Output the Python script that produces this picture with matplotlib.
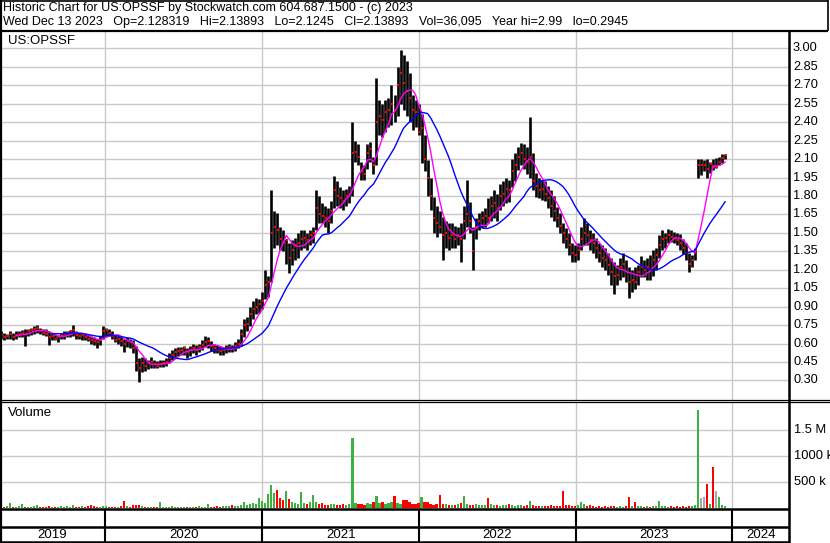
import matplotlib
matplotlib.use('Agg')
import matplotlib.pyplot as plt
import matplotlib.dates as mdates
from matplotlib.lines import Line2D
import numpy as np
import pandas as pd

plt.rcParams['font.family'] = ['Liberation Sans', 'DejaVu Sans']

# ---------------- data (weekly) ----------------
start_date = '2019-05-03'

high = [
    .70, .69, .68, .70, .69, .70, .70, .71, .72, .72,
    .73, .74, .75, .73, .72, .72, .70, .69, .68, .67,
    .69, .70, .70, .71, .75, .70, .69, .69, .68, .68,
    .66, .65, .64, .66, .74, .73, .72, .70, .67, .66,
    .66, .64, .65, .64, .63, .58, .48, .49, .48, .47,
    .49, .47, .46, .47, .47, .48, .52, .55, .56, .57,
    .57, .58, .56, .58, .60, .59, .60, .63, .66, .65,
    .62, .60, .59, .58, .57, .59, .60, .59, .61, .64,
    .72, .80, .82, .90, .95, .97, .96, 1.02, 1.20, 1.15,
    1.85, 1.68, 1.66, 1.55, 1.52, 1.45, 1.42, 1.44, 1.46, 1.50,
    1.52, 1.52, 1.50, 1.52, 1.55, 1.85, 1.80, 1.74, 1.72, 1.70,
    1.76, 1.96, 1.92, 1.87, 1.85, 1.86, 1.88, 2.40, 2.25, 2.22,
    2.08, 2.05, 2.22, 2.24, 2.12, 2.76, 2.58, 2.55, 2.58, 2.60,
    2.70, 2.62, 2.85, 2.99, 2.95, 2.90, 2.80, 2.62, 2.58, 2.55,
    2.47, 2.30, 2.09, 1.95, 1.79, 1.72, 1.68, 1.63, 1.60, 1.58,
    1.58, 1.56, 1.55, 1.58, 1.72, 1.93, 1.75, 1.55, 1.62, 1.66,
    1.68, 1.70, 1.78, 1.80, 1.85, 1.82, 1.90, 1.92, 1.95, 1.93,
    2.10, 2.15, 2.20, 2.23, 2.22, 2.20, 2.44, 2.15, 1.99, 1.95,
    1.93, 1.92, 1.88, 1.85, 1.80, 1.71, 1.66, 1.58, 1.54, 1.50,
    1.42, 1.40, 1.42, 1.55, 1.62, 1.58, 1.52, 1.50, 1.46, 1.42,
    1.40, 1.38, 1.34, 1.30, 1.26, 1.24, 1.30, 1.34, 1.28, 1.22,
    1.20, 1.22, 1.24, 1.31, 1.28, 1.30, 1.32, 1.36, 1.38, 1.48,
    1.52, 1.50, 1.53, 1.52, 1.51, 1.50, 1.49, 1.45, 1.42, 1.34,
    1.32, 1.38, 2.10, 2.10, 2.09, 2.10, 2.08, 2.10, 2.11, 2.12,
    2.14, 2.14]

low = [
    .64, .63, .64, .64, .63, .64, .65, .65, .58, .66,
    .67, .68, .69, .68, .67, .66, .59, .63, .63, .61,
    .64, .64, .65, .65, .66, .64, .64, .63, .63, .62,
    .60, .59, .56, .59, .64, .66, .66, .64, .61, .60,
    .58, .53, .57, .56, .52, .38, .29, .37, .38, .39,
    .40, .40, .40, .41, .41, .42, .44, .47, .49, .50,
    .51, .51, .48, .50, .52, .51, .53, .55, .57, .56,
    .54, .52, .52, .51, .51, .52, .53, .53, .54, .56,
    .58, .65, .70, .74, .80, .84, .85, .88, .96, .98,
    1.10, 1.38, 1.40, 1.36, 1.35, 1.25, 1.17, 1.24, 1.28, 1.30,
    1.36, 1.38, 1.36, 1.40, 1.42, 1.52, 1.58, 1.58, 1.55, 1.50,
    1.58, 1.70, 1.72, 1.70, 1.69, 1.72, 1.74, 1.80, 2.08, 2.05,
    1.93, 1.93, 2.02, 2.08, 1.98, 2.05, 2.30, 2.28, 2.32, 2.36,
    2.38, 2.40, 2.45, 2.55, 2.50, 2.45, 2.40, 2.34, 2.36, 2.30,
    2.07, 2.00, 1.80, 1.69, 1.50, 1.47, 1.50, 1.28, 1.38, 1.36,
    1.38, 1.38, 1.40, 1.26, 1.45, 1.55, 1.50, 1.20, 1.45, 1.52,
    1.54, 1.55, 1.58, 1.60, 1.62, 1.60, 1.69, 1.72, 1.74, 1.75,
    1.87, 1.92, 2.01, 2.05, 2.02, 1.98, 1.95, 1.85, 1.79, 1.78,
    1.77, 1.76, 1.70, 1.63, 1.60, 1.55, 1.50, 1.42, 1.38, 1.32,
    1.26, 1.26, 1.28, 1.36, 1.40, 1.40, 1.36, 1.34, 1.30, 1.26,
    1.22, 1.20, 1.16, 1.08, 1.00, 1.08, 1.12, 1.14, 1.10, 0.97,
    1.02, 1.04, 1.08, 1.14, 1.14, 1.12, 1.12, 1.15, 1.20, 1.30,
    1.36, 1.38, 1.42, 1.43, 1.42, 1.40, 1.36, 1.33, 1.28, 1.18,
    1.22, 1.28, 1.95, 1.97, 2.00, 1.95, 1.99, 2.01, 2.03, 2.05,
    2.07, 2.10]

close = [
    .67, .65, .66, .68, .65, .67, .68, .69, .68, .70,
    .71, .72, .73, .70, .69, .68, .65, .66, .64, .65,
    .67, .68, .69, .70, .71, .67, .66, .67, .65, .64,
    .63, .62, .61, .63, .70, .71, .69, .66, .63, .64,
    .62, .60, .62, .61, .56, .44, .40, .44, .42, .44,
    .45, .43, .42, .43, .44, .45, .48, .51, .53, .54,
    .55, .56, .53, .55, .56, .55, .57, .59, .61, .62,
    .58, .56, .55, .54, .55, .56, .57, .56, .58, .60,
    .68, .75, .76, .84, .88, .90, .92, .95, 1.08, 1.10,
    1.50, 1.55, 1.52, 1.45, 1.42, 1.44, 1.30, 1.36, 1.40, 1.42,
    1.45, 1.46, 1.44, 1.48, 1.50, 1.70, 1.65, 1.64, 1.62, 1.60,
    1.68, 1.85, 1.80, 1.78, 1.76, 1.80, 1.82, 2.15, 2.16, 2.12,
    2.00, 1.98, 2.15, 2.18, 2.05, 2.40, 2.45, 2.42, 2.48, 2.50,
    2.55, 2.50, 2.70, 2.80, 2.72, 2.65, 2.60, 2.50, 2.48, 2.32,
    2.35, 2.10, 1.95, 1.80, 1.62, 1.58, 1.55, 1.48, 1.50, 1.46,
    1.48, 1.45, 1.48, 1.45, 1.60, 1.65, 1.60, 1.35, 1.55, 1.60,
    1.62, 1.64, 1.62, 1.72, 1.74, 1.70, 1.80, 1.82, 1.86, 1.85,
    2.00, 2.05, 2.12, 2.15, 2.10, 2.08, 2.12, 1.92, 1.88, 1.85,
    1.86, 1.82, 1.78, 1.72, 1.68, 1.62, 1.56, 1.50, 1.45, 1.40,
    1.34, 1.32, 1.36, 1.45, 1.50, 1.48, 1.44, 1.42, 1.38, 1.34,
    1.30, 1.28, 1.24, 1.18, 1.15, 1.16, 1.22, 1.25, 1.18, 1.10,
    1.12, 1.10, 1.18, 1.22, 1.20, 1.22, 1.20, 1.28, 1.32, 1.40,
    1.45, 1.46, 1.48, 1.47, 1.46, 1.44, 1.42, 1.38, 1.34, 1.25,
    1.28, 1.35, 2.05, 2.05, 2.05, 2.02, 2.06, 2.04, 2.04, 2.08,
    2.11, 2.13]

# volume in thousands of shares
volume_k = [
    30, 25, 40, 96, 30, 20, 35, 90, 25, 30,
    20, 40, 55, 30, 25, 20, 45, 25, 30, 20,
    35, 25, 40, 30, 60, 25, 20, 35, 30, 45,
    55, 40, 30, 25, 50, 35, 20, 30, 25, 20,
    35, 140, 40, 30, 60, 70, 55, 40, 30, 25,
    20, 30, 25, 120, 30, 20, 25, 35, 30, 20,
    25, 30, 20, 25, 30, 20, 35, 30, 25, 80,
    30, 25, 40, 30, 35, 50, 45, 60, 40, 50,
    70, 120, 60, 90, 100, 80, 200, 140, 110, 270,
    450, 300, 360, 200, 150, 340, 180, 120, 100, 90,
    320, 110, 90, 130, 250, 120, 80, 100, 70, 60,
    90, 80, 70, 60, 80, 70, 90, 1350, 110, 80,
    90, 70, 100, 80, 120, 240, 100, 130, 90, 110,
    120, 230, 100, 90, 160, 160, 120, 90, 80, 100,
    220, 130, 130, 90, 70, 80, 250, 90, 80, 60,
    70, 60, 80, 100, 240, 90, 70, 60, 80, 60,
    70, 60, 200, 80, 70, 60, 50, 70, 60, 80,
    60, 50, 70, 60, 50, 60, 140, 60, 50, 40,
    50, 40, 45, 60, 50, 40, 50, 330, 70, 60,
    50, 40, 60, 120, 80, 50, 60, 40, 30, 40,
    30, 40, 30, 35, 40, 30, 40, 30, 40, 210,
    40, 130, 50, 40, 30, 40, 30, 40, 50, 140,
    50, 40, 30, 40, 30, 40, 30, 40, 30, 40,
    50, 60, 1890, 200, 220, 460, 80, 790, 340, 220,
    60, 40]

price_ticks = [0.30, 0.45, 0.60, 0.75, 0.90, 1.05, 1.20, 1.35, 1.50, 1.65,
               1.80, 1.95, 2.10, 2.25, 2.40, 2.55, 2.70, 2.85, 3.00]
volume_ticks = [500e3, 1000e3, 1500e3]
volume_tick_labels = ['500 k', '1000 k', '1.5 M']
years = [2019, 2020, 2021, 2022, 2023, 2024]

title_line1 = "Historic Chart for US:OPSSF by Stockwatch.com 604.687.1500 - (c) 2023"
title_line2 = ("Wed Dec 13 2023   Op=2.128319   Hi=2.13893   Lo=2.1245   Cl=2.13893   "
               "Vol=36,095   Year hi=2.99   lo=0.2945")
symbol = "US:OPSSF"

# ---------------- derived ----------------
dates = pd.date_range(start_date, periods=len(close), freq='7D')
cs = pd.Series(close)
ma_fast = cs.rolling(6).mean()
ma_slow = cs.rolling(18).mean()
diff = np.diff(np.r_[close[0] - 0.01, close])
vol_colors = np.where(diff > 1e-9, '#3cb043', np.where(diff < -1e-9, '#ff0000', '#a8a8a8'))
volume = np.array(volume_k) * 1000.0

# ---------------- layout ----------------
W, H = 830, 543
fig = plt.figure(figsize=(W / 100, H / 100), dpi=100)
fig.patch.set_facecolor('white')


def rect(x0, y0, x1, y1):
    return [x0 / W, 1 - y1 / H, (x1 - x0) / W, (y1 - y0) / H]


xmin = mdates.date2num(pd.Timestamp('2019-05-01'))
xmax = mdates.date2num(pd.Timestamp('2024-05-12'))
year_bounds = [mdates.date2num(pd.Timestamp(f'{y}-01-01')) for y in years[1:]]
grid_c = '#c8c8c8'
FS = 9.0

# price panel
axp = fig.add_axes(rect(0, 31, 789, 401))
axp.set_xlim(xmin, xmax)
axp.set_ylim(0.133, 3.142)
for t in price_ticks:
    axp.axhline(t, color=grid_c, lw=1.0, zorder=0)
for b in year_bounds:
    axp.axvline(b, color=grid_c, lw=1.0, zorder=0)
axp.vlines(dates, low, high, color='black', lw=1.9, zorder=2)
axp.plot(dates + pd.Timedelta(days=2), close, 's', color='#ff0000', ms=1.7, mew=0, zorder=3)
axp.plot(dates, ma_fast, color='#ff00ff', lw=1.0, zorder=4)
axp.plot(dates, ma_slow, color='#0000ff', lw=1.0, zorder=4)
axp.set_xticks([])
axp.set_yticks([])
for s in axp.spines.values():
    s.set_visible(False)
axp.text(8 / 789, 1 - 10 / 370, symbol, transform=axp.transAxes, ha='left', va='center',
         fontsize=9.5, color='black')
tr = axp.get_yaxis_transform()
for t in price_ticks:
    axp.text(793 / 789, t, f'{t:.2f}', transform=tr, ha='left', va='center',
             fontsize=9.2, color='black', clip_on=False)

# volume panel
axv = fig.add_axes(rect(0, 402, 789, 509))
axv.set_xlim(xmin, xmax)
axv.set_ylim(-14e3, 2.044e6)
for t in volume_ticks:
    axv.axhline(t, color=grid_c, lw=1.0, zorder=0)
for b in year_bounds:
    axv.axvline(b, color=grid_c, lw=1.0, zorder=0)
axv.bar(dates, volume, width=5.0, color=vol_colors, align='center', linewidth=0, zorder=2)
axv.set_xticks([])
axv.set_yticks([])
for s in axv.spines.values():
    s.set_visible(False)
axv.text(8 / 789, 1 - 11 / 107, 'Volume', transform=axv.transAxes, ha='left', va='center',
         fontsize=9.5, color='black')
trv = axv.get_yaxis_transform()
for t, lab in zip(volume_ticks, volume_tick_labels):
    axv.text(794 / 789, t, lab, transform=trv, ha='left', va='center',
             fontsize=9.3, color='black', clip_on=False)

# overlay for frame lines and header text (pixel coordinates)
ov = fig.add_axes([0, 0, 1, 1], zorder=10)
ov.set_xlim(0, W)
ov.set_ylim(H, 0)
ov.axis('off')
ov.patch.set_alpha(0)


def hline(y, x0, x1, lw=1.5):
    ov.add_line(Line2D([x0, x1], [y, y], color='black', lw=lw, solid_capstyle='butt'))


def vline(x, y0, y1, lw=1.5):
    ov.add_line(Line2D([x, x], [y0, y1], color='black', lw=lw, solid_capstyle='butt'))


# header box
hline(0.7, 0, 828, lw=1.2)
hline(30.5, 0, 828, lw=1.6)
vline(827.5, 0, 31, lw=1.2)
# left border
vline(0.8, 0, 543, lw=1.6)
# right axis separator
vline(789, 30, 543, lw=1.8)
# price/volume separator (double line)
hline(400.3, 0, 830, lw=0.9)
hline(402.4, 0, 830, lw=0.9)
# bottom bands
hline(509.2, 0, 789, lw=1.8)
hline(526.6, 0, 789, lw=1.8)
hline(541.8, 0, 789, lw=1.8)
xb_px = [(b - xmin) / (xmax - xmin) * 789 for b in year_bounds]
for xp in xb_px:
    vline(xp, 509, 542, lw=1.5)
edges = [0] + xb_px + [789]
for i, y in enumerate(years):
    ov.text((edges[i] + edges[i + 1]) / 2, 535, str(y), ha='center', va='center',
            fontsize=9.5, color='black')

ov.text(3, 8.5, title_line1, ha='left', va='center', fontsize=FS, color='black')
ov.text(3, 21.5, title_line2, ha='left', va='center', fontsize=FS, color='black')

fig.savefig('out.png', dpi=100, facecolor='white')
